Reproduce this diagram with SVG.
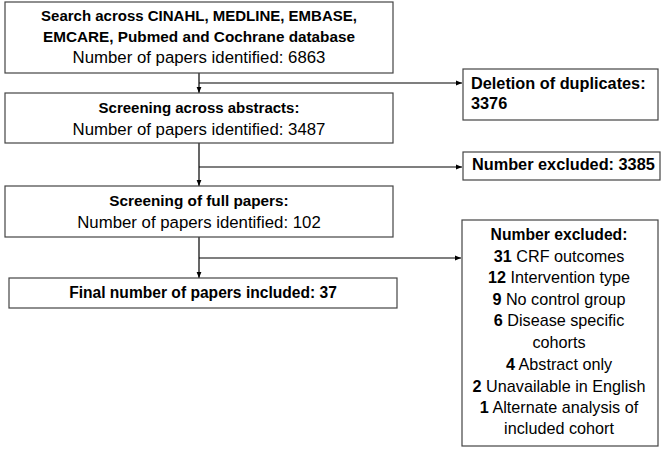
<svg xmlns="http://www.w3.org/2000/svg" width="666" height="449" viewBox="0 0 666 449">
<defs>
<style>
.box{fill:#fff;stroke:#444;stroke-width:1.2}
.t{font-family:"Liberation Sans",Arial,sans-serif;font-size:15px;fill:#000}
.r{font-size:16.8px}
.b{font-weight:bold}
.c{text-anchor:middle}
.x{font-size:16.2px}
.ln{fill:none;stroke:#000;stroke-width:1.2}
</style>
<marker id="ah" viewBox="0 0 10 10" refX="10" refY="5" markerWidth="6" markerHeight="6" orient="auto" markerUnits="userSpaceOnUse">
<path d="M0,1 L10,5 L0,9 z" fill="#000"/>
</marker>
</defs>
<g id="connectors">
<path class="ln" d="M199,73 V93" marker-end="url(#ah)"/>
<path class="ln" d="M199,83 H462" marker-end="url(#ah)"/>
<path class="ln" d="M199,143 V186" marker-end="url(#ah)"/>
<path class="ln" d="M199,167 H462" marker-end="url(#ah)"/>
<path class="ln" d="M199,237 V278" marker-end="url(#ah)"/>
<path class="ln" d="M199,258 H461" marker-end="url(#ah)"/>
</g>
<g id="search">
<rect class="box" x="5" y="2" width="388" height="71"/>
<text class="t b c" x="199" y="21">Search across CINAHL, MEDLINE, EMBASE,</text>
<text class="t b c" x="199" y="42" style="font-size:15.3px">EMCARE, Pubmed and Cochrane database</text>
<text class="t r c" x="199" y="63">Number of papers identified: 6863</text>
</g>
<g id="abstracts">
<rect class="box" x="5" y="93" width="388" height="50"/>
<text class="t b c" x="199" y="113">Screening across abstracts:</text>
<text class="t r c" x="199" y="135">Number of papers identified: 3487</text>
</g>
<g id="full">
<rect class="box" x="5" y="186" width="388" height="51"/>
<text class="t b c" x="199" y="206" style="font-size:15.3px">Screening of full papers:</text>
<text class="t r c" x="199" y="228">Number of papers identified: 102</text>
</g>
<g id="final">
<rect class="box" x="9" y="278" width="388" height="30"/>
<text class="t b c" x="203" y="298" style="font-size:15.6px">Final number of papers included: 37</text>
</g>
<g id="duplicates">
<rect class="box" x="463" y="69" width="195" height="51"/>
<text class="t b" x="471" y="89" style="font-size:16.3px">Deletion of duplicates:</text>
<text class="t b" x="471" y="109" style="font-size:16.3px">3376</text>
</g>
<g id="excluded1">
<rect class="box" x="463" y="152" width="197" height="28"/>
<text class="t b" x="472" y="170" style="font-size:16.3px">Number excluded: 3385</text>
</g>
<g id="excluded2">
<rect class="box" x="462" y="220" width="196" height="226"/>
<text class="t b c" x="559" y="240" style="font-size:15.7px">Number excluded:</text>
<text class="t x c" x="559" y="262"><tspan class="b">31</tspan> CRF outcomes</text>
<text class="t x c" x="559" y="283"><tspan class="b">12</tspan> Intervention type</text>
<text class="t x c" x="559" y="305"><tspan class="b">9</tspan> No control group</text>
<text class="t x c" x="559" y="326"><tspan class="b">6</tspan> Disease specific</text>
<text class="t x c" x="559" y="348">cohorts</text>
<text class="t x c" x="559" y="370"><tspan class="b">4</tspan> Abstract only</text>
<text class="t x c" x="559" y="392"><tspan class="b">2</tspan> Unavailable in English</text>
<text class="t x c" x="559" y="413"><tspan class="b">1</tspan> Alternate analysis of</text>
<text class="t x c" x="559" y="434">included cohort</text>
</g>
</svg>
